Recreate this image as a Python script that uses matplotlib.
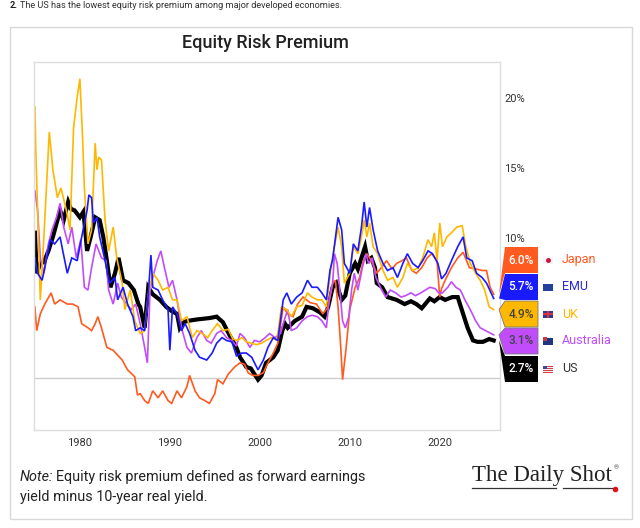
import matplotlib
matplotlib.use("Agg")
import matplotlib.pyplot as plt
from matplotlib.patches import Polygon, Rectangle
from matplotlib.lines import Line2D

# values: (year, equity risk premium %)
us = [(1975.0, 10.4), (1975.2, 7.5), (1975.6, 8.2), (1976.0, 8.3), (1976.5, 9.1), (1977.0, 10.1),
      (1977.8, 12.0), (1978.2, 11.3), (1978.7, 12.6), (1979.0, 12.1), (1979.4, 12.0), (1980.0, 11.5),
      (1980.4, 11.9), (1980.8, 9.1), (1981.2, 10.1), (1981.7, 11.5), (1982.2, 11.3), (1982.6, 10.1),
      (1983.0, 8.4), (1983.4, 6.5), (1983.9, 7.5), (1984.3, 8.6), (1984.8, 7.0), (1985.4, 6.8),
      (1986.0, 6.3), (1986.5, 5.3), (1986.7, 5.1), (1987.2, 3.6), (1987.6, 6.5), (1988.1, 6.0),
      (1988.9, 5.6), (1989.6, 5.1), (1990.2, 4.8), (1990.8, 4.6), (1991.1, 3.6), (1991.5, 4.0),
      (1992.0, 4.1), (1993.0, 4.2), (1994.4, 4.3), (1995.2, 4.4), (1995.9, 4.0), (1996.7, 3.0),
      (1997.4, 2.2), (1997.8, 1.5), (1998.5, 0.8), (1999.0, 0.7), (1999.8, -0.1), (2000.2, 0.2),
      (2000.7, 1.1), (2001.5, 1.5), (2002.0, 2.0), (2002.5, 3.4), (2002.8, 3.9), (2003.1, 3.6),
      (2003.9, 4.1), (2004.7, 4.4), (2005.2, 5.1), (2005.9, 5.0), (2006.7, 4.7), (2007.2, 4.4),
      (2007.6, 5.1), (2008.1, 6.5), (2008.5, 6.8), (2009.1, 5.6), (2009.5, 5.9), (2010.0, 7.5),
      (2010.6, 8.2), (2010.9, 7.8), (2011.3, 8.6), (2011.7, 9.4), (2012.0, 8.4), (2012.4, 8.6),
      (2012.8, 7.9), (2013.0, 6.8), (2013.6, 6.5), (2014.2, 5.8), (2015.2, 5.6), (2016.1, 5.3),
      (2016.8, 5.5), (2017.4, 5.3), (2018.0, 5.0), (2018.9, 5.7), (2019.4, 5.5), (2020.0, 5.8),
      (2020.6, 5.6), (2021.4, 5.8), (2022.0, 5.8), (2022.6, 4.6), (2023.1, 3.6), (2023.7, 2.7),
      (2024.2, 2.6), (2024.8, 2.6), (2025.5, 2.8), (2026.0, 2.7)]

japan = [(1975.0, 5.1), (1975.2, 3.4), (1975.6, 4.6), (1976.1, 5.3), (1976.8, 6.1), (1977.2, 5.3),
         (1977.8, 5.6), (1978.6, 5.3), (1979.2, 5.3), (1979.8, 5.1), (1980.2, 3.9), (1980.9, 3.6),
         (1981.3, 3.4), (1981.7, 3.9), (1982.0, 4.4), (1982.4, 3.6), (1983.0, 2.2), (1983.7, 2.0),
         (1984.7, 1.3), (1985.3, 0.6), (1986.1, 0.1), (1986.4, -1.2), (1986.7, -1.1), (1987.2, -1.6),
         (1987.6, -1.8), (1988.1, -0.9), (1988.7, -1.4), (1989.2, -0.9), (1989.8, -1.6), (1990.2, -1.8),
         (1990.8, -0.9), (1991.3, -1.4), (1991.9, -0.6), (1992.2, 0.2), (1992.8, -0.9), (1993.3, -1.4),
         (1993.9, -1.6), (1994.4, -1.8), (1995.0, -1.1), (1995.3, -0.1), (1995.9, -0.4), (1996.5, 0.3),
         (1997.2, 0.8), (1997.8, 1.1), (1998.3, 1.0), (1998.7, 0.4), (1999.2, 0.2), (1999.8, 0.2),
         (2000.4, 0.4), (2000.9, 1.1), (2001.5, 1.8), (2002.0, 2.5), (2002.6, 5.1), (2003.1, 4.6),
         (2003.7, 4.4), (2004.2, 5.3), (2004.8, 5.8), (2005.6, 5.4), (2006.3, 5.3), (2007.0, 4.6),
         (2007.6, 5.1), (2008.1, 6.8), (2008.4, 7.0), (2008.7, 5.1), (2009.0, 2.2), (2009.2, -0.1),
         (2009.6, 2.2), (2010.0, 4.9), (2010.6, 6.5), (2011.1, 7.2), (2011.5, 8.4), (2011.9, 8.9),
         (2012.4, 8.4), (2013.0, 7.5), (2013.5, 7.9), (2014.1, 8.4), (2014.7, 7.8), (2015.2, 8.2),
         (2015.8, 8.4), (2016.3, 8.6), (2016.9, 7.7), (2017.4, 7.5), (2018.0, 7.9), (2018.6, 8.6),
         (2019.1, 8.9), (2019.7, 8.4), (2020.0, 5.8), (2020.2, 6.4), (2020.6, 7.0), (2021.3, 7.9),
         (2022.0, 8.6), (2022.6, 9.0), (2023.3, 7.9), (2024.1, 7.8), (2024.7, 7.7), (2025.2, 7.7),
         (2025.6, 6.5), (2026.0, 6.0)]

emu = [(1975.0, 8.6), (1975.3, 7.5), (1975.8, 7.0), (1976.1, 7.9), (1976.7, 9.9), (1977.2, 9.6),
       (1977.8, 10.1), (1978.1, 9.1), (1978.6, 7.5), (1979.1, 8.6), (1979.7, 8.4), (1980.2, 10.1),
       (1980.8, 12.0), (1981.0, 13.1), (1981.3, 12.9), (1981.5, 11.1), (1981.9, 11.5), (1982.2, 10.1),
       (1982.8, 8.4), (1983.3, 6.8), (1983.9, 7.2), (1984.2, 5.6), (1984.8, 6.5), (1985.3, 5.3),
       (1985.9, 4.4), (1986.2, 3.4), (1986.7, 3.6), (1987.2, 3.4), (1987.6, 6.0), (1987.9, 8.8),
       (1988.1, 6.5), (1988.7, 6.3), (1989.2, 5.6), (1989.8, 4.9), (1990.0, 2.0), (1990.3, 5.1),
       (1990.8, 4.6), (1991.3, 3.4), (1991.7, 3.9), (1992.2, 3.2), (1992.8, 2.0), (1993.3, 1.5),
       (1994.1, 1.3), (1994.7, 1.8), (1995.2, 2.5), (1995.8, 2.9), (1996.3, 2.7), (1996.9, 2.6),
       (1997.4, 1.6), (1998.0, 1.8), (1998.5, 1.8), (1999.1, 1.5), (1999.8, 0.6), (2000.4, 1.3),
       (2000.9, 2.2), (2001.5, 2.9), (2002.0, 2.7), (2002.6, 5.6), (2003.0, 6.1), (2003.5, 5.3),
       (2004.1, 5.8), (2004.7, 6.1), (2005.3, 7.0), (2005.8, 6.5), (2006.4, 6.5), (2006.9, 6.1),
       (2007.4, 5.6), (2007.8, 7.7), (2008.1, 8.5), (2008.7, 11.5), (2009.1, 10.6), (2009.4, 8.2),
       (2010.0, 7.5), (2010.4, 9.6), (2010.9, 9.1), (2011.3, 10.8), (2011.6, 12.6), (2011.9, 10.8),
       (2012.2, 12.2), (2012.6, 10.6), (2013.1, 9.1), (2013.7, 8.2), (2014.2, 7.7), (2014.8, 7.9),
       (2015.3, 7.2), (2015.9, 8.2), (2016.4, 8.9), (2017.0, 8.2), (2017.6, 7.9), (2018.1, 8.4),
       (2018.7, 9.1), (2019.2, 8.9), (2019.8, 8.2), (2020.2, 7.1), (2020.7, 7.5), (2021.3, 8.4),
       (2022.0, 9.4), (2022.6, 10.1), (2023.0, 8.6), (2023.6, 8.4), (2024.1, 7.5), (2024.7, 7.2),
       (2025.2, 6.8), (2026.0, 5.7)]

uk = [(1975.0, 19.4), (1975.1, 16.3), (1975.6, 5.6), (1976.0, 10.1), (1976.6, 17.6), (1977.0, 14.9),
      (1977.5, 12.9), (1977.9, 13.6), (1978.5, 12.0), (1978.9, 10.6), (1979.3, 17.9), (1979.7, 20.1),
      (1980.0, 21.4), (1980.3, 17.2), (1980.5, 13.6), (1980.9, 9.6), (1981.3, 10.6), (1981.7, 16.8),
      (1981.9, 14.9), (1982.1, 15.8), (1982.4, 15.6), (1982.8, 11.3), (1983.2, 9.1), (1983.7, 10.8),
      (1984.1, 8.6), (1984.7, 6.8), (1985.0, 4.9), (1985.6, 6.3), (1986.1, 4.1), (1986.7, 3.2),
      (1987.2, 3.4), (1987.6, 6.0), (1988.1, 7.5), (1988.7, 7.0), (1989.2, 6.3), (1989.8, 6.5),
      (1990.3, 5.6), (1990.8, 5.6), (1991.3, 4.1), (1991.9, 4.4), (1992.5, 2.9), (1993.0, 3.4),
      (1993.6, 3.2), (1994.2, 2.9), (1994.7, 3.4), (1995.3, 3.9), (1995.9, 3.4), (1996.5, 3.5),
      (1997.0, 2.8), (1997.5, 2.7), (1998.0, 2.9), (1998.5, 2.6), (1999.1, 2.5), (1999.6, 2.4),
      (2000.2, 2.5), (2000.7, 2.7), (2001.3, 2.9), (2001.9, 2.7), (2002.4, 5.1), (2003.0, 4.9),
      (2003.5, 4.4), (2004.1, 5.1), (2004.7, 5.2), (2005.3, 6.1), (2005.8, 5.8), (2006.4, 5.6),
      (2006.9, 5.6), (2007.4, 5.1), (2007.9, 7.9), (2008.2, 9.1), (2008.7, 10.8), (2009.1, 9.4),
      (2009.4, 6.8), (2010.0, 7.5), (2010.4, 9.4), (2010.9, 8.9), (2011.3, 10.1), (2011.6, 11.3),
      (2011.9, 10.1), (2012.2, 11.1), (2012.6, 9.4), (2013.1, 8.9), (2013.7, 7.7), (2014.2, 7.0),
      (2014.8, 7.2), (2015.3, 6.5), (2015.9, 7.2), (2016.4, 8.2), (2017.0, 7.7), (2017.6, 7.9),
      (2018.1, 8.6), (2018.7, 9.9), (2019.1, 9.4), (2019.4, 10.4), (2019.7, 8.4), (2020.0, 11.1),
      (2020.3, 9.4), (2020.8, 10.1), (2021.3, 10.4), (2021.9, 10.8), (2022.5, 10.9), (2022.9, 9.4),
      (2023.4, 8.2), (2024.0, 7.5), (2024.5, 7.0), (2025.0, 6.3), (2025.5, 5.1), (2026.0, 4.9)]

australia = [(1975.0, 13.4), (1975.3, 12.0), (1975.6, 8.6), (1976.0, 7.5), (1976.5, 9.6), (1976.9, 10.6),
             (1977.4, 11.5), (1977.8, 12.5), (1978.2, 10.8), (1978.7, 9.6), (1979.1, 10.8), (1979.6, 8.6),
             (1980.1, 9.9), (1980.5, 6.5), (1980.9, 6.3), (1981.3, 7.9), (1981.8, 9.6), (1982.4, 8.6),
             (1982.9, 8.4), (1983.2, 6.3), (1983.7, 5.3), (1984.2, 6.8), (1984.6, 5.8), (1985.2, 5.3),
             (1985.7, 4.9), (1986.2, 5.3), (1986.7, 3.9), (1987.2, 2.2), (1987.5, 1.1), (1987.8, 6.3),
             (1988.1, 7.2), (1988.6, 8.4), (1989.0, 9.1), (1989.4, 7.9), (1989.9, 6.5), (1990.3, 7.0),
             (1990.8, 5.6), (1991.3, 3.6), (1991.9, 2.2), (1992.4, 1.8), (1993.0, 2.9), (1993.5, 3.4),
             (1994.1, 2.7), (1994.6, 2.5), (1995.2, 3.2), (1995.7, 3.4), (1996.3, 2.9), (1996.9, 2.7),
             (1997.4, 2.3), (1997.8, 3.2), (1998.3, 2.9), (1998.9, 2.2), (1999.4, 2.7), (2000.0, 2.6),
             (2000.6, 2.9), (2001.1, 3.2), (2001.7, 2.9), (2002.3, 3.2), (2002.7, 4.1), (2003.1, 4.9),
             (2003.5, 3.4), (2004.1, 3.6), (2004.7, 4.1), (2005.3, 4.4), (2005.8, 4.5), (2006.4, 4.4),
             (2006.9, 4.1), (2007.4, 3.6), (2007.7, 5.6), (2008.1, 6.8), (2008.3, 8.9), (2008.6, 8.2),
             (2008.9, 6.3), (2009.2, 4.1), (2009.5, 3.6), (2009.9, 4.4), (2010.2, 6.3), (2010.5, 7.5),
             (2010.9, 6.3), (2011.4, 7.9), (2011.8, 8.9), (2012.1, 8.2), (2012.5, 8.6), (2012.9, 7.2),
             (2013.4, 6.5), (2014.0, 5.8), (2014.5, 6.3), (2015.1, 6.1), (2015.7, 5.8), (2016.2, 5.9),
             (2016.8, 6.1), (2017.3, 5.9), (2017.9, 6.1), (2018.4, 6.3), (2018.9, 6.5), (2019.5, 6.4),
             (2019.9, 6.1), (2020.3, 6.1), (2020.9, 6.5), (2021.3, 6.9), (2021.8, 6.5), (2022.3, 6.3),
             (2022.8, 5.6), (2023.4, 4.9), (2024.0, 4.1), (2024.5, 3.6), (2025.1, 3.4), (2026.0, 3.1)]

names = ["Japan", "EMU", "UK", "Australia", "US"]
latest = [6.0, 5.7, 4.9, 3.1, 2.7]
colors = ["#ff5a1f", "#1a1aff", "#ffb800", "#c04cfc", "#000000"]
name_colors = ["#ff5a1f", "#2a2ad8", "#ffb800", "#c04cfc", "#333333"]
box_text_colors = ["white", "white", "#444444", "#444444", "white"]

x_ticks = [1980, 1990, 2000, 2010, 2020]
y_ticks = [10, 15, 20]   # 0% and 5% sit behind the value boxes

W, H = 640, 528


def fx(x):
    return x / W


def fy(y):
    return 1 - y / H


plt.rcParams['font.family'] = ['Roboto', 'DejaVu Sans']

fig = plt.figure(figsize=(6.4, 5.28), dpi=100)
fig.patch.set_facecolor("white")

# outer card
fig.add_artist(Rectangle((fx(10), fy(519)), fx(632) - fx(10), fy(27) - fy(519),
                         transform=fig.transFigure, facecolor="none", edgecolor="#d8d8d8", lw=1))

ax = fig.add_axes([fx(34), fy(430), fx(500) - fx(34), fy(62) - fy(430)])

series = [(us, colors[4], 3.0), (japan, colors[0], 1.2), (australia, colors[3], 1.2),
          (uk, colors[2], 1.2), (emu, colors[1], 1.2)]
for data, c, lw in series:
    xs, ys = zip(*data)
    ax.plot(xs, ys, color=c, lw=lw, solid_joinstyle="miter")

ax.axhline(0, color="#cccccc", lw=1, zorder=0)
ax.set_xlim(1974.9, 2026.7)
ax.set_ylim(-3.7, 22.6)

ax.yaxis.tick_right()
ax.set_yticks(y_ticks)
ax.set_yticklabels([f"{t}%" for t in y_ticks])
ax.set_xticks(x_ticks)
ax.set_xticklabels([str(t) for t in x_ticks])
ax.tick_params(axis="both", length=0, labelsize=8, labelcolor="#333333")
ax.tick_params(axis="y", pad=3)
ax.tick_params(axis="x", pad=6)
for s in ax.spines.values():
    s.set_color("#dddddd")
    s.set_linewidth(1)

# title and header
fig.text(fx(265), fy(43), "Equity Risk Premium", ha="center", va="center",
         fontsize=13, fontweight="medium", color="#222222")

fig.canvas.draw()
r = fig.canvas.get_renderer()

t = fig.text(fx(10), fy(6), "2.", ha="left", va="center", fontsize=6.6, fontweight="bold", color="#222222")
bb = t.get_window_extent(r)
fig.text(fx(bb.x1 + 2), fy(6), "The US has the lowest equity risk premium among major developed economies.",
         ha="left", va="center", fontsize=6.6, color="#333333")

# value boxes at the right end of the lines
box_tops = [247, 274, 301, 328, 356]
box_h = 26
for i, name in enumerate(names):
    top = box_tops[i]
    bot = top + box_h
    tip = ax.transData.transform((2026.0, latest[i]))
    tip_x, tip_y = 499, H - tip[1]
    pts = [(505, top), (538, top), (538, bot), (505, bot), (tip_x, tip_y)]
    edge = "#777777" if box_text_colors[i] != "white" else "none"
    fig.add_artist(Polygon([(fx(a), fy(b)) for a, b in pts], closed=True, transform=fig.transFigure,
                           facecolor=colors[i], edgecolor=edge, lw=0.6))
    cy = top + box_h / 2
    fig.text(fx(521), fy(cy), f"{latest[i]:.1f}%", ha="center", va="center", fontsize=8.5,
             color=box_text_colors[i], fontweight="medium")

    # tiny flags
    fl, fr, ft, fb = 543, 553, cy - 3.5, cy + 3.5
    def rect(x0, y0, x1, y1, c):
        fig.add_artist(Rectangle((fx(x0), fy(y1)), fx(x1) - fx(x0), fy(y0) - fy(y1),
                                 transform=fig.transFigure, facecolor=c, edgecolor="none"))
    if name == "Japan":
        rect(fl, ft, fr, fb, "#f4f4f4")
        fig.add_artist(Line2D([fx(548)], [fy(cy)], marker="o", ms=2.5, color="#d0103a",
                              transform=fig.transFigure))
    elif name == "EMU":
        rect(fl, ft, fr, fb, "#23409a")
    elif name == "UK":
        rect(fl, ft, fr, fb, "#2b3f8c")
        rect(fl, cy - 1, fr, cy + 1, "#e03040")
        rect(547, ft, 549, fb, "#e03040")
    elif name == "Australia":
        rect(fl, ft, fr, fb, "#1f3680")
        rect(fl, ft, 547, cy, "#c8364a")
    else:
        rect(fl, ft, fr, fb, "#f2f2f2")
        for k in range(4):
            rect(fl, ft + k * 2, fr, ft + k * 2 + 1, "#d83a4a")
        rect(fl, ft, 547, cy, "#3a4a9a")

    fig.text(fx(562), fy(cy), name, ha="left", va="center", fontsize=9, color=name_colors[i])

# note at the bottom
n = fig.text(fx(20), fy(477), "Note:", ha="left", va="center", fontsize=10.4, style="italic", color="#222222")
bb = n.get_window_extent(r)
fig.text(fx(bb.x1 + 2), fy(477), "Equity risk premium defined as forward earnings",
         ha="left", va="center", fontsize=10.4, color="#222222")
fig.text(fx(20), fy(497), "yield minus 10-year real yield.", ha="left", va="center",
         fontsize=10.4, color="#222222")

# logo
fig.text(fx(472), fy(476), "The Daily Shot", ha="left", va="center", fontsize=16.5,
         family="Liberation Serif", color="#222222")
fig.text(fx(614), fy(468), "\u00ae", ha="left", va="center", fontsize=4.5, color="#444444")
fig.add_artist(Line2D([fx(472), fx(556)], [fy(488), fy(488)], color="#333333", lw=0.9,
                      transform=fig.transFigure))
fig.add_artist(Line2D([fx(563), fx(612)], [fy(488), fy(488)], color="#333333", lw=0.9,
                      transform=fig.transFigure))
fig.add_artist(Line2D([fx(615)], [fy(488.5)], marker="o", ms=3, color="#e0101a",
                      transform=fig.transFigure))

fig.savefig("out.png", dpi=100, facecolor="white")
